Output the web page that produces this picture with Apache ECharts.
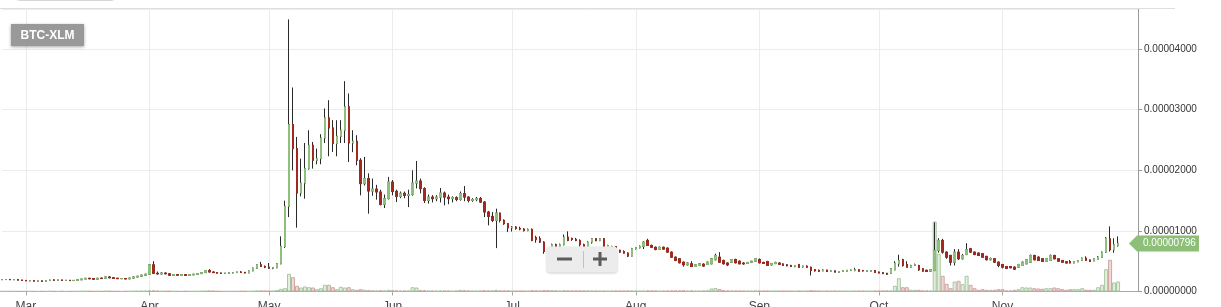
<!DOCTYPE html>
<html><head><meta charset="utf-8">
<script src="https://cdn.jsdelivr.net/npm/echarts@6/dist/echarts.min.js"></script>
<style>html,body{margin:0;padding:0;background:#fff;overflow:hidden}#c{width:1221px;height:307px}</style>
</head><body><div id="c"></div>
<script>
// Daily candles BTC-XLM, values in satoshi (1e-8 BTC): [open, high, low, close]
const startDate = [2017, 1, 23]; // 2017-02-23
const padDays = 5;
const feb = [[195,200,190,197],[197,203,193,199],[199,202,192,194],[194,200,190,197],[197,199,185,188],[188,192,180,183]];
const mar = [[183,186,172,176],[176,182,170,179],[179,181,168,172],[172,178,166,175],[175,177,165,168],
[168,182,166,180],[180,192,178,190],[190,200,184,186],[186,194,182,190],[190,193,180,183],
[183,188,176,185],[185,190,178,180],[180,186,175,183],[183,196,181,193],[193,210,190,206],
[206,222,203,218],[218,224,205,210],[210,214,200,204],[204,222,202,219],[219,232,210,214],
[214,250,210,240],[240,252,222,226],[226,232,212,218],[218,226,208,212],[212,218,205,214],
[214,222,204,208],[208,226,206,222],[222,250,218,240],[240,258,232,252],[252,276,248,270],
[270,292,262,285]];
const apr = [[285,450,280,440],[440,500,290,300],[300,330,280,290],[290,320,280,305],[305,312,286,292],
[292,296,262,268],[268,285,262,278],[278,282,264,270],[270,282,266,278],[278,280,262,266],
[266,278,262,275],[275,288,270,285],[285,300,280,296],[296,318,292,312],[312,355,308,345],
[345,368,318,322],[322,330,306,312],[312,318,298,304],[304,310,294,300],[300,306,292,302],
[302,312,298,308],[308,316,300,312],[312,326,308,322],[322,335,312,316],[316,322,300,306],
[306,345,302,340],[340,395,335,385],[385,445,380,440],[440,490,405,413],[413,430,385,402]];
const may = [[402,470,372,385],[385,400,368,392],[392,470,385,457],[457,910,450,744],[744,1500,720,1405],
[1405,4491,1228,2755],[2755,3367,2000,2358],[2358,2551,1053,1625],[1625,2193,1570,1790],[1790,2451,1532,2028],
[2028,2661,2011,2413],[2413,2468,2028,2165],[2165,2358,2100,2193],[2193,2595,2100,2534],[2534,3020,2450,2865],
[2865,3157,2231,2699],[2699,2827,2303,2441],[2441,2827,2231,2562],[2562,2827,2450,2661],[2661,3471,2450,3047],
[3047,3268,2137,2451],[2451,2661,2300,2479],[2479,2579,2083,2165],[2165,2200,1587,1780],[1780,2220,1750,1863],
[1863,1950,1284,1658],[1658,1863,1580,1690],[1690,1760,1516,1642],[1642,1680,1420,1438],[1438,1600,1377,1532],
[1532,1890,1520,1807]];
const jun = [[1807,1840,1587,1653],[1653,1680,1476,1570],[1570,1650,1540,1620],[1620,1650,1540,1587],[1587,1680,1393,1600],
[1600,2000,1580,1790],[1790,2154,1700,1823],[1823,1863,1620,1697],[1697,1720,1460,1504],[1504,1600,1450,1558],
[1558,1590,1470,1532],[1532,1590,1490,1558],[1558,1708,1470,1625],[1625,1650,1422,1558],[1558,1600,1440,1532],
[1532,1570,1470,1550],[1550,1570,1490,1520],[1520,1650,1500,1615],[1615,1741,1490,1558],[1558,1570,1470,1504],
[1504,1540,1480,1515],[1515,1560,1490,1532],[1532,1560,1460,1476],[1476,1490,1228,1311],[1311,1330,1091,1240],
[1240,1311,1146,1174],[1174,1367,716,1294],[1294,1300,1140,1174],[1174,1190,1100,1119],[1119,1130,980,1050]];
const jul = [[1050,1080,990,1063],[1063,1080,1020,1040],[1040,1070,1010,1030],[1030,1045,990,1005],[1005,1040,995,1025],
[1025,1040,830,843],[888,920,805,855],[870,910,800,815],[815,830,623,661],[661,690,550,623],
[623,790,620,772],[772,790,730,745],[745,790,735,772],[772,940,760,898],[898,992,830,843],
[875,890,835,860],[860,885,830,843],[843,860,740,772],[772,790,700,716],[716,830,705,815],
[815,880,790,871],[871,880,830,840],[840,880,830,870],[870,880,720,732],[732,770,715,760],
[720,755,700,740],[740,745,640,650],[680,690,640,650],[660,680,625,634],[634,645,570,584],
[584,720,580,706]];
const aug = [[706,730,690,722],[722,760,710,745],[745,830,700,815],[843,870,750,760],[760,775,720,730],
[730,740,680,694],[694,740,685,730],[730,740,690,700],[716,725,640,650],[650,660,555,567],
[567,575,500,512],[540,550,465,474],[484,495,410,441],[441,480,430,470],[457,500,405,413],
[413,450,405,440],[430,470,420,457],[450,465,410,420],[446,495,440,484],[457,550,450,540],
[524,623,515,595],[567,650,475,484],[512,525,450,457],[470,480,420,440],[484,530,475,524],
[529,540,465,474],[500,510,450,457],[470,480,445,455],[465,485,455,480],[484,505,475,500],
[500,550,495,540]];
const sep = [[529,545,465,474],[480,490,455,465],[496,505,420,430],[440,470,430,460],[460,490,455,480],
[470,480,445,450],[455,465,425,430],[440,450,415,425],[430,440,405,415],[410,430,400,425],
[446,455,390,400],[405,425,395,420],[420,430,392,400],[400,410,264,347],[360,370,330,340],
[350,360,325,335],[340,365,335,355],[352,360,322,330],[330,348,325,340],[340,345,315,320],
[315,338,310,330],[330,348,325,345],[335,355,330,350],[345,362,340,355],[345,392,335,358],
[358,362,330,335],[345,352,330,340],[335,350,330,345],[330,350,325,345],[347,352,310,314]];
const oct = [[320,330,300,305],[310,318,290,295],[300,306,278,286],[302,385,298,375],[358,500,350,468],
[457,607,410,512],[524,540,410,430],[446,500,395,402],[402,440,395,430],[430,460,420,446],
[430,440,340,358],[375,385,330,335],[350,360,322,330],[335,370,325,360],[347,1140,335,678],
[678,880,640,843],[843,870,623,650],[650,660,540,567],[595,605,430,484],[484,700,430,650],
[650,700,520,540],[540,620,530,595],[610,798,600,689],[705,720,640,650],[650,660,600,610],
[634,645,585,595],[623,635,555,567],[579,590,515,524],[524,560,515,545],[540,550,475,484],
[484,495,400,430]];
const nov = [[446,455,380,402],[413,420,370,380],[413,420,385,392],[402,410,360,369],[402,455,395,446],
[430,495,425,484],[457,535,450,524],[484,610,478,595],[595,605,515,524],[567,580,505,512],
[540,550,490,496],[496,550,490,540],[512,610,505,595],[595,605,530,540],[540,548,495,500],
[512,520,478,484],[490,500,465,470],[495,520,465,470],[470,495,465,490],[490,512,485,505],
[512,560,505,550],[550,580,505,512],[520,530,490,495],[505,545,500,540],[530,585,525,570],
[567,660,560,650],[650,900,640,880],[870,1075,660,689],[689,880,640,771],[760,909,740,796]];

// Daily volume (arbitrary units)
const volFeb = [3,3,2,3,2,2];
const volMar = [2,3,2,2,3,3,4,3,2,3,2,2,3,3,4,5,4,3,4,3,6,5,3,3,2,3,3,5,5,6,6];
const volApr = [12,10,6,4,4,5,3,3,3,4,3,3,4,5,6,8,6,4,3,3,3,3,3,4,4,3,5,8,9,8];
const volMay = [7,8,15,27,33,177,143,57,40,50,43,40,23,33,67,67,43,23,47,40,43,23,17,23,17,13,12,10,12,10,17];
const volJun = [12,10,9,9,10,43,40,14,12,9,8,8,10,9,8,7,8,17,12,9,8,8,8,12,10,9,17,10,9,10];
const volJul = [8,7,7,7,7,12,10,8,12,12,12,10,8,12,10,8,8,9,9,10,9,7,8,7,7,9,8,7,7,9,10];
const volAug = [9,8,8,10,9,8,7,7,8,10,10,10,12,8,9,7,7,8,12,30,35,25,12,9,9,8,7,7,7,8,9];
const volSep = [8,7,8,7,7,6,6,6,6,6,7,6,6,12,9,7,6,6,6,6,6,6,6,6,7,6,6,6,6,7];
const volOct = [8,8,10,10,57,133,43,43,17,17,17,10,10,10,700,377,157,77,33,100,107,73,157,67,33,17,23,17,17,17,23];
const volNov = [23,10,10,17,23,43,40,40,33,30,27,33,33,40,33,23,17,23,23,23,33,17,17,17,43,67,223,317,90,100];

const monthNames = ['Jan','Feb','Mar','Apr','May','Jun','Jul','Aug','Sep','Oct','Nov','Dec'];
const yTicks = [0,1000,2000,3000,4000];
const pairName = 'BTC-XLM';

const rows = [].concat(feb, mar, apr, may, jun, jul, aug, sep, oct, nov);
const volumes = [].concat(volFeb, volMar, volApr, volMay, volJun, volJul, volAug, volSep, volOct, volNov);
const opens = rows.map(r => r[0]), closes = rows.map(r => r[3]);

const dates = [];
const t0 = Date.UTC(startDate[0], startDate[1], startDate[2]);
for (let k = 0; k < rows.length + padDays; k++) dates.push(new Date(t0 + k * 86400000).toISOString().slice(0, 10));
const isMonthStart = (idx, val) => idx < rows.length && String(val).slice(8) === '01';

const UP = '#8dc07b', DOWN = '#a2291e', WICK = '#2a2a2a';
const FONT = '"Liberation Sans", Arial, Helvetica, sans-serif';

const chart = echarts.init(document.getElementById('c'), null, {renderer: 'canvas'});
chart.setOption({
  animation: false,
  backgroundColor: '#fff',
  grid: {left: 2, right: 83, top: 9, bottom: 15.5, containLabel: false, outerBoundsMode: 'none'},
  xAxis: {
    type: 'category', data: dates, boundaryGap: false,
    axisLine: {lineStyle: {color: '#a9a9a9', width: 1}},
    axisTick: {interval: isMonthStart, length: 4, lineStyle: {color: '#a9a9a9'}},
    axisLabel: {interval: isMonthStart, formatter: v => monthNames[+v.slice(5, 7) - 1], color: '#444', fontSize: 12, margin: 9, fontFamily: FONT},
    splitLine: {show: true, interval: isMonthStart, lineStyle: {color: '#ececec'}}
  },
  yAxis: [{
    type: 'value', position: 'right', min: yTicks[0], max: 4662, interval: 1000,
    axisLine: {show: true, lineStyle: {color: '#9a9a9a'}},
    axisTick: {show: true, length: 4, lineStyle: {color: '#9a9a9a'}},
    axisLabel: {showMaxLabel: false, formatter: v => yTicks.indexOf(v) >= 0 ? (v / 1e8).toFixed(8) : '', color: '#333', fontSize: 10, margin: 6, fontFamily: FONT},
    splitLine: {lineStyle: {color: '#ececec'}}
  }, {
    type: 'value', min: 0, max: 2825, show: false, splitLine: {show: false}
  }],
  series: [{
    type: 'bar', xAxisIndex: 0, yAxisIndex: 1, barCategoryGap: '0%', silent: true, z: 1,
    data: volumes.map((v, i) => ({
      value: v,
      itemStyle: closes[i] >= opens[i]
        ? {color: '#e3f0df', borderColor: '#a8c6a0', borderWidth: 1}
        : {color: '#f2d9d8', borderColor: '#cfa4a3', borderWidth: 1}
    }))
  }, {
    type: 'candlestick', silent: true, z: 3, barWidth: 2,
    data: rows.map(r => [r[0], r[3], r[2], r[1]]),
    itemStyle: {color: WICK, color0: WICK, borderColor: WICK, borderColor0: WICK, borderWidth: 1}
  }, {
    type: 'candlestick', silent: true, z: 4, barWidth: 2,
    data: rows.map(r => [r[0], r[3], Math.min(r[0], r[3]), Math.max(r[0], r[3])]),
    itemStyle: {color: UP, color0: DOWN, borderColor: UP, borderColor0: DOWN, borderWidth: 1}
  }]
});

const lastClose = closes[closes.length - 1];
const py = Math.round(chart.convertToPixel({yAxisIndex: 0}, lastClose)) + 0.5;
chart.setOption({
  graphic: [
    {type: 'rect', z: 100, shape: {x: 15.5, y: -10.5, width: 100, height: 11, r: 4}, style: {fill: '#f6f6f6', stroke: '#d6d6d6'}},
    {type: 'line', z: 100, shape: {x1: 0, y1: 8.5, x2: 1175, y2: 8.5}, style: {stroke: '#dedede', lineWidth: 1}},
    {type: 'rect', z: 100, shape: {x: 11, y: 24, width: 73, height: 22}, style: {fill: '#999', shadowBlur: 3, shadowColor: 'rgba(0,0,0,0.35)', shadowOffsetY: 1}},
    {type: 'text', z: 101, style: {text: pairName, x: 47.5, y: 35.5, textAlign: 'center', textVerticalAlign: 'middle', align: 'center', verticalAlign: 'middle', fill: '#fff', font: 'bold 12px ' + FONT}},
    {type: 'rect', z: 100, shape: {x: 546.5, y: 246.5, width: 71, height: 26, r: 4}, style: {fill: '#ececec', shadowBlur: 2, shadowColor: 'rgba(0,0,0,0.18)', shadowOffsetY: 1}},
    {type: 'line', z: 101, shape: {x1: 583.5, y1: 251, x2: 583.5, y2: 268}, style: {stroke: '#c2c2c2', lineWidth: 1}},
    {type: 'rect', z: 101, shape: {x: 557, y: 257.5, width: 15, height: 3}, style: {fill: '#5c5c5c'}},
    {type: 'rect', z: 101, shape: {x: 593, y: 257.5, width: 14, height: 3}, style: {fill: '#5c5c5c'}},
    {type: 'rect', z: 101, shape: {x: 598.5, y: 252, width: 3, height: 14}, style: {fill: '#5c5c5c'}},
    {type: 'polygon', z: 100, shape: {points: [[1129, py], [1137, py - 8], [1199, py - 8], [1199, py + 8], [1137, py + 8]]}, style: {fill: '#8dbf78'}},
    {type: 'text', z: 101, style: {text: (lastClose / 1e8).toFixed(8), x: 1143, y: py, textAlign: 'left', textVerticalAlign: 'middle', align: 'left', verticalAlign: 'middle', fill: '#fff', font: '10px ' + FONT}}
  ]
});
</script>
</body></html>
